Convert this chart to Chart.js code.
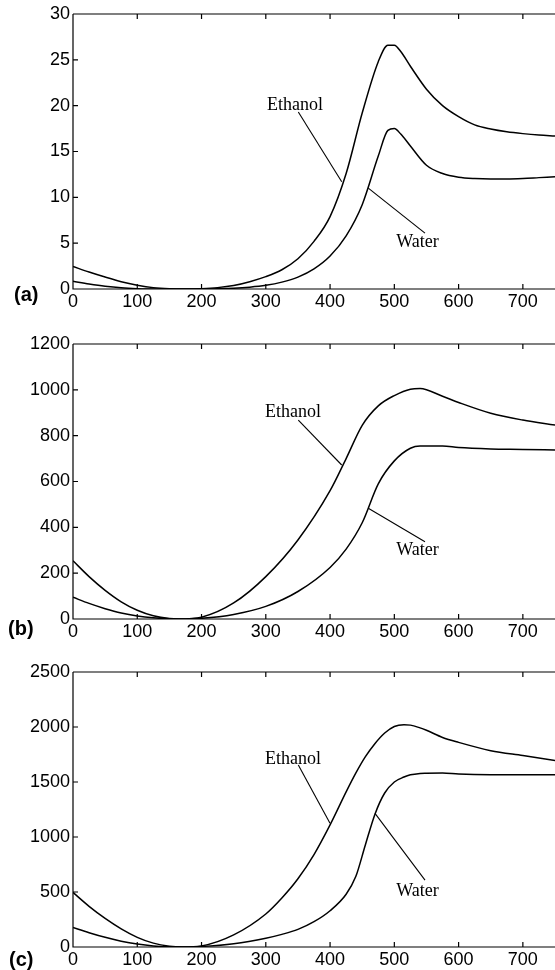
<!DOCTYPE html>
<html><head><meta charset="utf-8">
<script src="https://cdn.jsdelivr.net/npm/chart.js@4.4.0/dist/chart.umd.min.js"></script>
<style>
html,body{margin:0;padding:0;background:#fff;width:555px;height:970px;overflow:hidden;position:relative;}
canvas{position:absolute;left:0;}
</style></head><body>
<canvas id="ca" width="555" height="320" style="top:0px"></canvas>
<canvas id="cb" width="555" height="320" style="top:330px"></canvas>
<canvas id="cc" width="555" height="312" style="top:658px"></canvas>
<script>
// ---------- data ----------
const xTickLabels = [0,100,200,300,400,500,600,700];

// panel (a)
const xA = [0,25,50,75,100,125,150,175,200,225,250,275,300,325,350,375,400,425,450,475,490,500,510,525,550,575,600,625,650,675,700,725,750];
const ethanolA = [2.45,1.85,1.3,0.8,0.42,0.15,0.03,0,0.04,0.15,0.38,0.8,1.35,2.1,3.3,5.2,7.9,12.6,19.2,24.8,26.6,26.6,25.9,24.3,21.8,20.0,18.8,17.9,17.45,17.15,16.95,16.8,16.7];
const waterA   = [0.85,0.55,0.3,0.13,0.04,0,0,0,0,0.02,0.08,0.2,0.4,0.75,1.3,2.2,3.6,5.8,9.2,14.5,17.3,17.5,16.9,15.6,13.5,12.6,12.2,12.05,12.0,12.0,12.05,12.15,12.25];
const yTicksA = [0,5,10,15,20,25,30];

// panel (b)
const xB = [0,25,50,75,100,125,150,165,200,250,300,350,400,425,450,475,500,525,540,575,600,650,700,750];
const ethanolB = [254,185,125,75,38,14,2,0,8,70,185,345,560,700,845,930,975,1003,1006,972,945,898,868,846];
const waterB   = [95,68,45,26,13,5,1,0,3,20,55,120,225,305,420,590,690,745,755,755,748,742,740,737];
const yTicksB = [0,200,400,600,800,1000,1200];

// panel (c)
const xC = [0,25,50,75,100,125,150,170,200,250,300,325,350,375,400,425,440,455,470,485,500,515,525,540,550,575,600,650,700,750];
const ethanolC = [496,370,260,165,88,35,7,0,10,110,300,445,620,840,1110,1410,1580,1730,1850,1945,2005,2020,2017,1992,1970,1905,1860,1785,1740,1695];
const waterC   = [177,130,88,53,27,10,2,0,5,30,80,115,160,230,330,480,640,930,1210,1400,1500,1545,1565,1578,1580,1582,1572,1566,1566,1566];
const yTicksC = [0,500,1000,1500,2000,2500];

const seriesNames = ['Ethanol','Water'];
const panelLetters = ['(a)','(b)','(c)'];

// annotation anchors (data coordinates)
const annA = {eth:{text:[301.9,19.5], line:[[350.6,19.3],[418.1,11.7]]}, wat:{text:[536,4.6], line:[[459.5,11.0],[547.7,6.1]]}};
const annB = {eth:{text:[298.7,881], line:[[350.6,868],[418.1,672]]}, wat:{text:[536,279], line:[[459.5,483],[547.7,337]]}};
const annC = {eth:{text:[298.7,1664], line:[[350.6,1655],[399.9,1124]]}, wat:{text:[536,462], line:[[469.9,1215],[547.7,608]]}};

// ---------- drawing ----------
const TICK_FONT = {family:"'Liberation Sans', Arial, Helvetica, sans-serif", size:18};

const framePlugin = {
  id:'frame',
  afterDraw(chart){
    const o = chart.options.plugins.frame;
    const {ctx, chartArea:a, scales:{x,y}} = chart;
    ctx.save();
    ctx.strokeStyle = '#000';
    ctx.lineWidth = 1.2;
    ctx.beginPath();
    ctx.moveTo(a.left, a.top); ctx.lineTo(a.right + 2, a.top);
    ctx.moveTo(a.left, a.top); ctx.lineTo(a.left, a.bottom); ctx.lineTo(a.right + 2, a.bottom);
    x.ticks.forEach(t => {
      const px = x.getPixelForValue(t.value);
      ctx.moveTo(px, a.bottom); ctx.lineTo(px, a.bottom - 5);
      ctx.moveTo(px, a.top); ctx.lineTo(px, a.top + 5);
    });
    y.ticks.forEach(t => {
      const py = y.getPixelForValue(t.value);
      ctx.moveTo(a.left, py); ctx.lineTo(a.left + 5, py);
    });
    ctx.stroke();

    // annotation pointers
    ctx.lineWidth = 1.1;
    ['eth','wat'].forEach(k => {
      const L = o.ann[k].line;
      ctx.beginPath();
      ctx.moveTo(x.getPixelForValue(L[0][0]), y.getPixelForValue(L[0][1]));
      ctx.lineTo(x.getPixelForValue(L[1][0]), y.getPixelForValue(L[1][1]));
      ctx.stroke();
    });
    ctx.fillStyle = '#000';
    ctx.font = "18px 'Liberation Serif', 'Times New Roman', serif";
    ctx.textBaseline = 'alphabetic';
    ctx.textAlign = 'left';
    ctx.fillText(seriesNames[0], x.getPixelForValue(o.ann.eth.text[0]), y.getPixelForValue(o.ann.eth.text[1]));
    ctx.textAlign = 'center';
    ctx.fillText(seriesNames[1], x.getPixelForValue(o.ann.wat.text[0]), y.getPixelForValue(o.ann.wat.text[1]));

    // panel letter
    ctx.font = "bold 20px 'Liberation Sans', Arial, sans-serif";
    ctx.textAlign = 'left';
    ctx.textBaseline = 'middle';
    ctx.fillText(o.letter, o.letterPos[0], o.letterPos[1]);
    ctx.restore();
  }
};

function toPts(xs, ys){ return xs.map((v,i)=>({x:v, y:ys[i]})); }

function makePanel(id, xs, eth, wat, yTicks, letter, letterPos, ann){
  const canvas = document.getElementById(id);
  const H = canvas.height;
  const yMax = yTicks[yTicks.length-1];
  const yStep = yTicks[1]-yTicks[0];
  const ds = (data) => ({
    data, borderColor:'#000', borderWidth:1.5, pointRadius:0, fill:false,
    cubicInterpolationMode:'monotone'
  });
  new Chart(canvas, {
    type:'line',
    data:{ datasets:[ {label:seriesNames[0], ...ds(toPts(xs,eth))}, {label:seriesNames[1], ...ds(toPts(xs,wat))} ] },
    options:{
      responsive:false, animation:false, devicePixelRatio:1,
      layout:{padding:{top:14,left:0,right:0,bottom:0}},
      plugins:{ legend:{display:false}, tooltip:{enabled:false}, frame:{letter, letterPos, ann} },
      scales:{
        x:{ type:'linear', min:0, max:750,
            grid:{display:false, drawTicks:false}, border:{display:false},
            ticks:{ stepSize:100, includeBounds:false, autoSkip:false, maxRotation:0, padding:2,
                    color:'#000', font:TICK_FONT,
                    callback:(v)=> xTickLabels.includes(v) ? String(v) : '' },
            afterFit:(s)=>{ s.height = H - 289; } },
        y:{ type:'linear', min:0, max:yMax,
            grid:{display:false, drawTicks:false}, border:{display:false},
            ticks:{ stepSize:yStep, includeBounds:false, padding:3, color:'#000', font:TICK_FONT,
                    callback:(v)=> yTicks.includes(v) ? String(v) : '' },
            afterFit:(s)=>{ s.width = 73; } }
      }
    },
    plugins:[framePlugin]
  });
}

makePanel('ca', xA, ethanolA, waterA, yTicksA, panelLetters[0], [14,295], annA);
makePanel('cb', xB, ethanolB, waterB, yTicksB, panelLetters[1], [8,299], annB);
makePanel('cc', xC, ethanolC, waterC, yTicksC, panelLetters[2], [9,302], annC);
</script>
</body></html>
